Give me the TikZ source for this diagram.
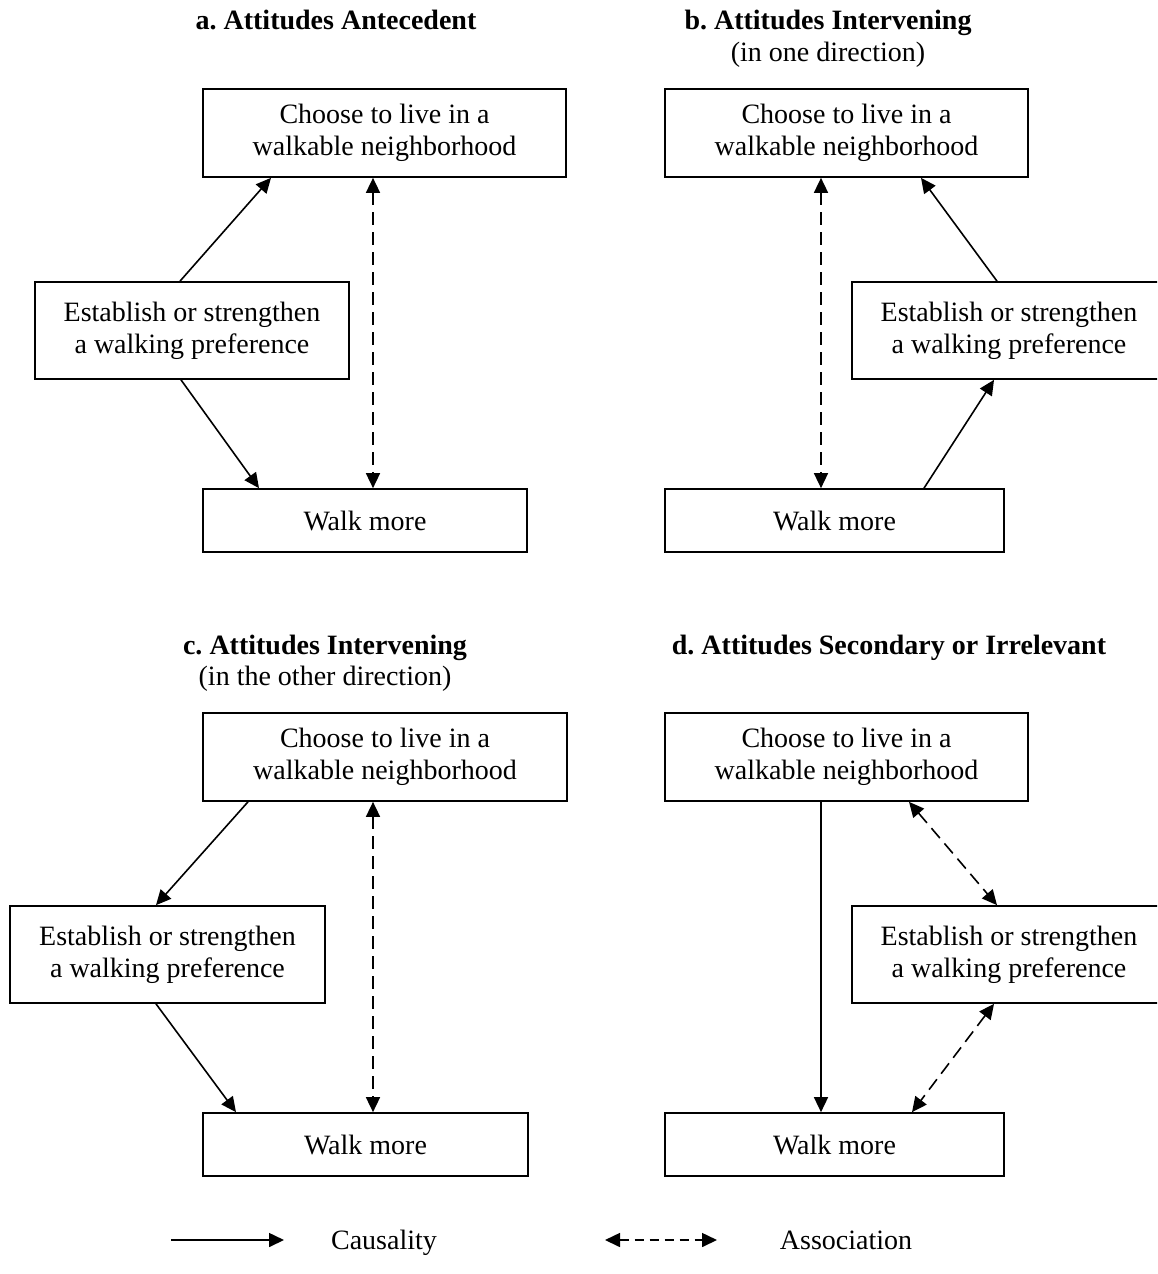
\documentclass[tikz,border=0pt]{standalone}
\usepackage{fontspec}
\setmainfont{Liberation Serif}
\usetikzlibrary{arrows.meta}
\frenchspacing
\begin{document}
\begin{tikzpicture}[x=1pt,y=-1pt,
  box/.style={draw, line width=1.7pt, inner sep=0pt, align=center,
    font=\fontsize{28}{32}\selectfont},
  ttl/.style={font=\fontsize{28}{32}\selectfont\bfseries, anchor=base, inner sep=0pt},
  sub/.style={font=\fontsize{28}{32}\selectfont, anchor=base, inner sep=0pt},
  cause/.style={line width=1.6pt, -{Triangle[length=15pt,width=14pt]}},
  assoc/.style={line width=1.6pt, dash pattern=on 13pt off 7pt,
    {Triangle[length=15pt,width=14pt]}-{Triangle[length=15pt,width=14pt]}}
]
\path[use as bounding box] (0,0) rectangle (1157,1274);
\clip (0,0) rectangle (1157,1274);
\fill[white] (0,0) rectangle (1157,1274);

% ---------- panel a ----------
\node[ttl] (tia) at (336,29) {a. Attitudes Antecedent};
\node[box, minimum width=363pt, minimum height=88pt] (ta) at (384.5,133) {Choose to live in a\\walkable neighborhood};
\node[box, minimum width=314pt, minimum height=97pt] (ea) at (192,330.5) {Establish or strengthen\\a walking preference};
\node[box, minimum width=324pt, minimum height=63pt] (wa) at (365,520.5) {Walk more};
\draw[cause] ([xshift=-12pt]ea.north) -- ([xshift=-113.5pt]ta.south);
\draw[cause] ([xshift=-11pt]ea.south) -- ([xshift=-106pt]wa.north);
\draw[assoc] ([xshift=-11.5pt]ta.south) -- ([xshift=8pt]wa.north);

% ---------- panel b ----------
\node[ttl] (tib) at (828,29) {b. Attitudes Intervening};
\node[sub] (sib) at (828,61) {(in one direction)};
\node[box, minimum width=363pt, minimum height=88pt] (tb) at (846.5,133) {Choose to live in a\\walkable neighborhood};
\node[box, minimum width=314pt, minimum height=97pt] (eb) at (1009,330.5) {Establish or strengthen\\a walking preference};
\node[box, minimum width=339pt, minimum height=63pt] (wb) at (834.5,520.5) {Walk more};
\draw[assoc] ([xshift=-25.5pt]tb.south) -- ([xshift=-13.5pt]wb.north);
\draw[cause] ([xshift=-12pt]eb.north) -- ([xshift=74.5pt]tb.south);
\draw[cause] ([xshift=89.5pt]wb.north) -- ([xshift=-15pt]eb.south);

% ---------- panel c ----------
\node[ttl] (tic) at (325,654) {c. Attitudes Intervening};
\node[sub] (sic) at (325,685) {(in the other direction)};
\node[box, minimum width=364pt, minimum height=88pt] (tc) at (385,757) {Choose to live in a\\walkable neighborhood};
\node[box, minimum width=315pt, minimum height=97pt] (ec) at (167.5,954.5) {Establish or strengthen\\a walking preference};
\node[box, minimum width=325pt, minimum height=63pt] (wc) at (365.5,1144.5) {Walk more};
\draw[cause] ([xshift=-137pt]tc.south) -- ([xshift=-11.5pt]ec.north);
\draw[cause] ([xshift=-11.5pt]ec.south) -- ([xshift=-129.5pt]wc.north);
\draw[assoc] ([xshift=-12pt]tc.south) -- ([xshift=7.5pt]wc.north);

% ---------- panel d ----------
\node[ttl] (tid) at (889,654) {d. Attitudes Secondary or Irrelevant};
\node[box, minimum width=363pt, minimum height=88pt] (td) at (846.5,757) {Choose to live in a\\walkable neighborhood};
\node[box, minimum width=314pt, minimum height=97pt] (ed) at (1009,954.5) {Establish or strengthen\\a walking preference};
\node[box, minimum width=339pt, minimum height=63pt] (wd) at (834.5,1144.5) {Walk more};
\draw[cause] ([xshift=-25.5pt]td.south) -- ([xshift=-13.5pt]wd.north);
\draw[assoc] ([xshift=62.5pt]td.south) -- ([xshift=-12pt]ed.north);
\draw[assoc] ([xshift=-15pt]ed.south) -- ([xshift=77.5pt]wd.north);

% ---------- legend ----------
\coordinate (c1) at (171,1240);
\coordinate (c2) at (284,1240);
\coordinate (d1) at (605,1240);
\coordinate (d2) at (717,1240);
\draw[cause] (c1) -- (c2);
\draw[line width=1.6pt, dash pattern=on 9pt off 6pt,
  {Triangle[length=15pt,width=14pt]}-{Triangle[length=15pt,width=14pt]}] (d1) -- (d2);
\node[sub] (lc) at (384,1249) {Causality};
\node[sub] (la) at (846,1249) {Association};
\end{tikzpicture}
\end{document}
